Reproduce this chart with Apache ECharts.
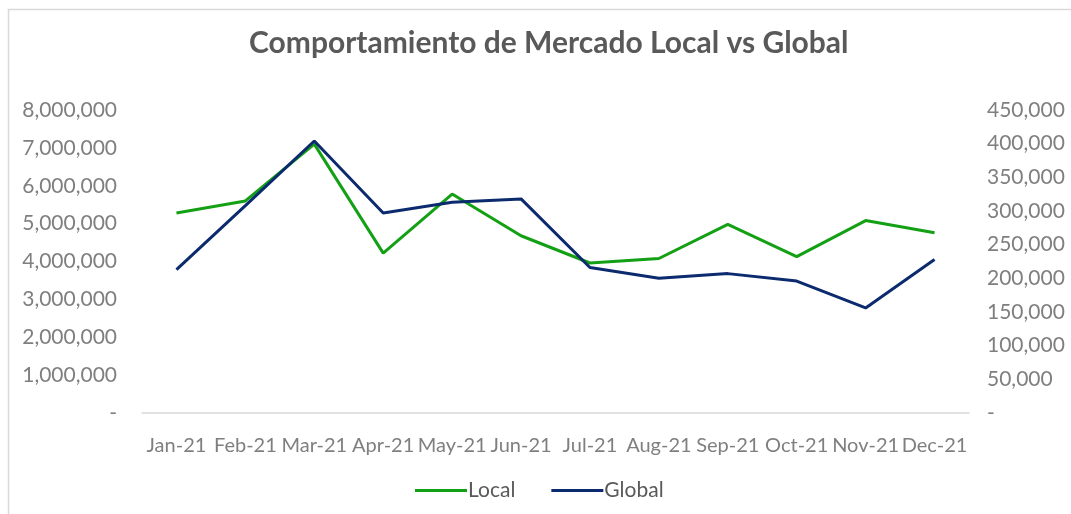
<!DOCTYPE html>
<html>
<head>
<meta charset="utf-8">
<script src="https://cdn.jsdelivr.net/npm/echarts@6/dist/echarts.min.js"></script>
<style>html,body{margin:0;padding:0;background:#fff;}#c{width:1071px;height:514px;}</style>
</head>
<body>
<div id="c"></div>
<script>
const categories = ['Jan-21','Feb-21','Mar-21','Apr-21','May-21','Jun-21','Jul-21','Aug-21','Sep-21','Oct-21','Nov-21','Dec-21'];
const localValues = [5280000, 5600000, 7100000, 4220000, 5780000, 4680000, 3960000, 4080000, 4980000, 4130000, 5080000, 4760000];
const globalValues = [213000, 308000, 404000, 297000, 313000, 318000, 216000, 200000, 207000, 196000, 156000, 228000];
const leftTicks = {min: 0, max: 8000000, interval: 1000000};
const rightTicks = {min: 0, max: 450000, interval: 50000};

const fmt = v => v === 0 ? '-' : v.toLocaleString('en-US');
const chart = echarts.init(document.getElementById('c'), null, {renderer: 'canvas'});
const labelColor = '#7f7f7f';
const fontFamily = 'Lato, "Open Sans", sans-serif';
chart.setOption({
  animation: false,
  backgroundColor: '#fff',
  textStyle: {fontFamily},
  title: {
    text: 'Comportamiento de Mercado Local vs Global',
    left: 244, top: 23,
    textStyle: {fontSize: 30, fontWeight: 'bold', color: '#595959', fontFamily}
  },
  graphic: [{
    type: 'rect', silent: true,
    shape: {x: 8.5, y: 9.5, width: 1200, height: 700},
    style: {fill: 'none', stroke: '#d9d9d9', lineWidth: 1.5}
  }],
  legend: {
    bottom: 8, left: 410,
    itemWidth: 52, itemHeight: 3, itemGap: 36,
    icon: 'rect',
    textStyle: {fontSize: 21, color: '#595959', fontFamily, padding: [0, 0, 0, -4]},
    data: ['Local', 'Global']
  },
  grid: {left: 142, right: 102, top: 110, bottom: 101, containLabel: false},
  xAxis: {
    type: 'category', data: categories, boundaryGap: true,
    axisLine: {lineStyle: {color: '#d9d9d9', width: 1.5}},
    axisTick: {show: false},
    axisLabel: {color: labelColor, fontSize: 20, margin: 23, interval: 0, fontFamily}
  },
  yAxis: [{
    type: 'value', position: 'left', ...leftTicks,
    splitLine: {show: false}, axisLine: {show: false}, axisTick: {show: false},
    axisLabel: {color: labelColor, fontSize: 21, margin: 25, formatter: fmt, fontFamily}
  }, {
    type: 'value', position: 'right', ...rightTicks,
    splitLine: {show: false}, axisLine: {show: false}, axisTick: {show: false},
    axisLabel: {color: labelColor, fontSize: 21, margin: 18, formatter: fmt, fontFamily}
  }],
  series: [{
    name: 'Local', type: 'line', yAxisIndex: 0, data: localValues,
    symbol: 'none', lineStyle: {color: '#14a014', width: 3}, itemStyle: {color: '#14a014'}
  }, {
    name: 'Global', type: 'line', yAxisIndex: 1, data: globalValues,
    symbol: 'none', lineStyle: {color: '#0c2a6e', width: 3}, itemStyle: {color: '#0c2a6e'}
  }]
});
</script>
</body>
</html>
